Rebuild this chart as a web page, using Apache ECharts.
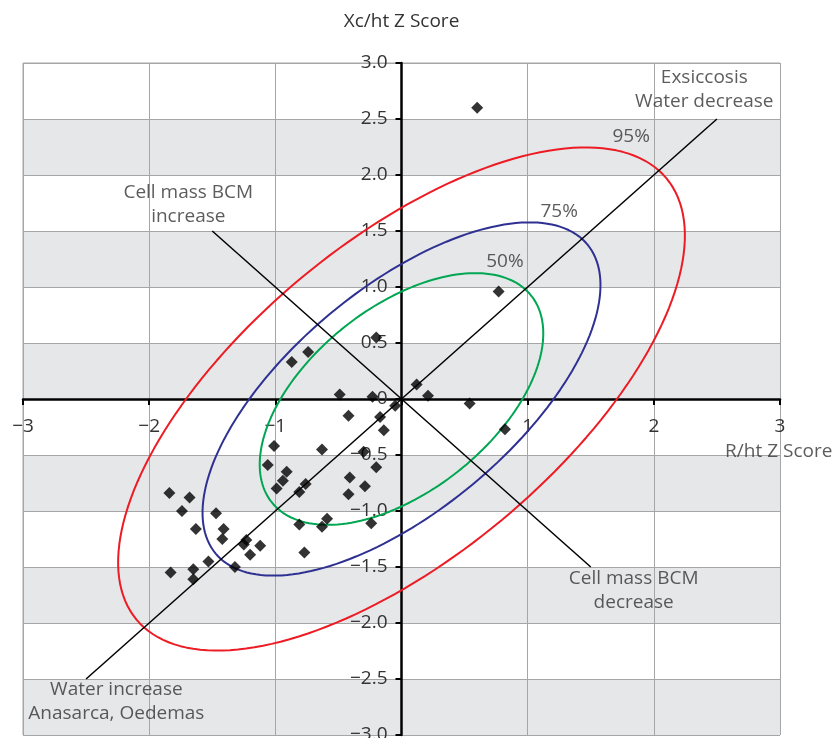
<!DOCTYPE html>
<html>
<head>
<meta charset="utf-8">
<title>R/ht - Xc/ht Z score graph</title>
<script src="https://cdn.jsdelivr.net/npm/echarts@6/dist/echarts.min.js"></script>
<style>
  html, body { margin: 0; padding: 0; background: #fff; }
  #chart { width: 834px; height: 738px; }
</style>
</head>
<body>
<div id="chart"></div>
<script>
// one entry per subject: R/ht Z score (x) and Xc/ht Z score (y)
const rhtZ = [0.60, 0.77, -0.20, -0.74, -0.87, -0.49, -0.23, 0.12, 0.21, -0.05,
  0.54, 0.82, -0.42, -0.17, -0.14, -1.01, -0.63, -0.30, -0.20, -1.06,
  -0.91, -0.94, -0.99, -0.76, -0.81, -0.41, -0.29, -0.42, -1.84, -1.68,
  -1.74, -1.47, -1.63, -1.41, -1.42, -0.81, -0.63, -0.59, -0.24, -1.23,
  -1.25, -1.12, -1.20, -0.77, -1.53, -1.32, -1.83, -1.65, -1.65];
const xchtZ = [2.60, 0.96, 0.55, 0.42, 0.33, 0.04, 0.02, 0.13, 0.03, -0.06,
  -0.04, -0.27, -0.15, -0.16, -0.28, -0.42, -0.45, -0.47, -0.61, -0.59,
  -0.65, -0.73, -0.80, -0.76, -0.83, -0.70, -0.78, -0.85, -0.84, -0.88,
  -1.00, -1.02, -1.16, -1.16, -1.25, -1.12, -1.14, -1.07, -1.11, -1.26,
  -1.30, -1.31, -1.39, -1.37, -1.45, -1.50, -1.55, -1.52, -1.61];

// tolerance ellipses centred on 0,0, axes along y = x and y = -x
const ellipseNames = ['50%', '75%', '95%'];
const ellipseAlong = [0.98, 1.43, 2.04];
const ellipseAcross = [0.55, 0.665, 0.94];

const diagLine = [[-2.5, -2.5], [2.5, 2.5]];
const antiLine = [[-1.5, 1.5], [1.5, -1.5]];

const noteTexts = ['Exsiccosis\nWater decrease', 'Cell mass BCM\nincrease',
  'Cell mass BCM\ndecrease', 'Water increase\nAnasarca, Oedemas', '95%', '75%', '50%',
  'R/ht Z Score'];
const noteAt = [[2.40, 2.76], [-1.69, 1.74], [1.84, -1.71], [-2.26, -2.70],
  [1.82, 2.34], [1.25, 1.67], [0.82, 1.23], [2.99, -0.47]];

const ellipseColors = ['#00a651', '#2e3192', '#ed1c24'];
const FONT = '"Open Sans", "Noto Sans", sans-serif';
const TXT = '#333';
const WEIGHT = 400;

// plot box in px; axes are shifted into its middle so they cross at 0,0
const G = { left: 23, right: 54, top: 63, bottom: 3 };
const plotW = 834 - G.left - G.right;
const plotH = 738 - G.top - G.bottom;

function minus(s) {
  return String(s).replace('-', '\u2212');
}

function ellipsePoints(a, b) {
  const pts = [];
  for (let i = 0; i <= 180; i++) {
    const t = i / 180 * Math.PI * 2;
    pts.push([a * Math.cos(t) - b * Math.sin(t), a * Math.cos(t) + b * Math.sin(t)]);
  }
  return pts;
}

const chart = echarts.init(document.getElementById('chart'));

const series = [];

ellipseNames.forEach((n, i) => {
  series.push({
    name: n,
    type: 'line',
    data: ellipsePoints(ellipseAlong[i], ellipseAcross[i]),
    showSymbol: false,
    silent: true,
    lineStyle: { color: ellipseColors[i], width: 2 },
    z: 3
  });
});

[diagLine, antiLine].forEach(d => {
  series.push({
    type: 'line',
    data: d,
    showSymbol: false,
    silent: true,
    lineStyle: { color: '#000', width: 1.5 },
    z: 3
  });
});

series.push({
  name: 'subjects',
  type: 'scatter',
  data: rhtZ.map((x, i) => [x, xchtZ[i]]),
  symbol: 'diamond',
  symbolSize: 12,
  itemStyle: { color: '#000' },
  z: 4
});

series.push({
  type: 'scatter',
  data: noteTexts.map((t, i) => ({ name: t, value: noteAt[i] })),
  symbolSize: 0,
  silent: true,
  label: {
    show: true,
    position: 'inside',
    formatter: '{b}',
    fontFamily: FONT,
    fontWeight: WEIGHT,
    fontSize: 19,
    lineHeight: 24,
    align: 'center',
    verticalAlign: 'middle',
    color: TXT
  },
  z: 5
});

const option = {
  animation: false,
  backgroundColor: '#fff',
  grid: {
    left: G.left, right: G.right, top: G.top, bottom: G.bottom,
    outerBoundsMode: 'none',
    containLabel: false,
    show: true, borderColor: '#a6a6a6', borderWidth: 1
  },
  xAxis: {
    type: 'value',
    min: -3, max: 3, interval: 1,
    position: 'bottom',
    offset: -plotH / 2,
    axisLine: { onZero: false, lineStyle: { color: '#000', width: 2.5 } },
    axisTick: { show: true, length: 6, lineStyle: { color: '#000', width: 2 } },
    axisLabel: {
      margin: 18,
      fontFamily: FONT, fontWeight: WEIGHT, fontSize: 19, color: TXT,
      formatter: v => (v === 0 ? '' : minus(v))
    },
    splitLine: { show: true, lineStyle: { color: '#a6a6a6', width: 1 } }
  },
  yAxis: {
    type: 'value',
    min: -3, max: 3, interval: 0.5,
    position: 'left',
    offset: -plotW / 2,
    name: 'Xc/ht Z Score',
    nameLocation: 'end',
    nameGap: 31,
    nameTextStyle: {
      fontFamily: FONT, fontWeight: WEIGHT, fontSize: 19, color: TXT, lineHeight: 20
    },
    axisLine: { onZero: false, lineStyle: { color: '#000', width: 2.5 } },
    axisTick: { show: true, length: 6, lineStyle: { color: '#000', width: 2 } },
    axisLabel: {
      margin: 14,
      fontFamily: FONT, fontWeight: WEIGHT, fontSize: 19, color: TXT,
      formatter: v => (v === 0 ? '0' : minus(v.toFixed(1)))
    },
    splitLine: { show: true, lineStyle: { color: '#a6a6a6', width: 1 } },
    splitArea: { show: true, areaStyle: { color: ['#e6e7e9', '#ffffff'] } }
  },
  series: series
};

chart.setOption(option);
</script>
</body>
</html>
